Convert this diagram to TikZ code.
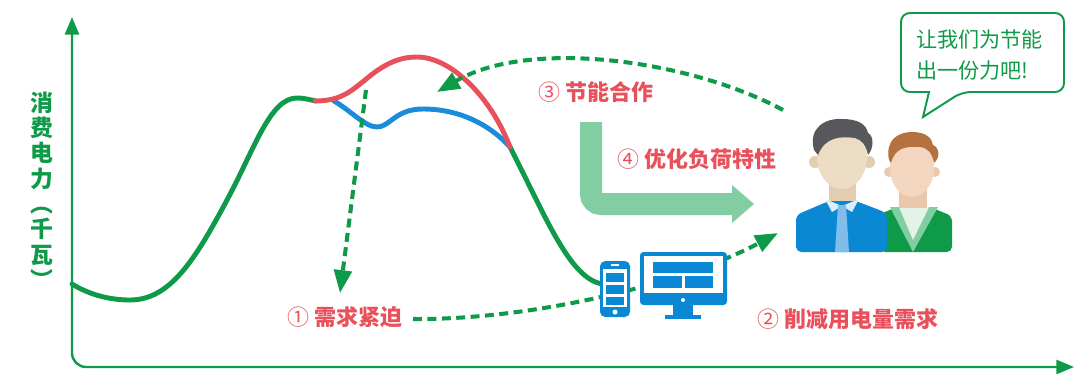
\documentclass[tikz,border=0pt]{standalone}
\usepackage{fontspec}
\usepackage{tikz}
\usetikzlibrary{arrows.meta}
\newfontfamily\cjk{Noto Sans CJK SC}

\definecolor{powergreen}{HTML}{0E9A48}
\definecolor{peakred}{HTML}{E8505B}
\definecolor{cutblue}{HTML}{1A8CDA}
\definecolor{softgreen}{HTML}{82CEA2}
\definecolor{devblue}{HTML}{0A88D4}
\definecolor{hairgrey}{HTML}{58585C}
\definecolor{hairbrown}{HTML}{B5713F}
\definecolor{skinA}{HTML}{EBDCC3}
\definecolor{skinAdark}{HTML}{E2CDB0}
\definecolor{skinB}{HTML}{F3D6BF}
\definecolor{skinBdark}{HTML}{EBC7AC}
\definecolor{collarblue}{HTML}{DCEEFA}
\definecolor{tieblue}{HTML}{80BDEA}
\definecolor{shirtgreen}{HTML}{E3F3E8}

\begin{document}
\begin{tikzpicture}[x=0.02cm, y=-0.02cm, font=\cjk,
	axis/.style={powergreen, line width=1.4pt},
	load/.style={line width=2.8pt, line cap=round},
	flow/.style={powergreen, line width=2.3pt, dash pattern=on 5.1pt off 3.1pt, -{Triangle[length=13pt, width=10pt]}},
	tag/.style={text=peakred, font=\cjk\bfseries\fontsize{12.5}{14}\selectfont, anchor=west, inner sep=0pt}]
	\useasboundingbox (0,0) rectangle (1075,373);

	% Draw axes
	\draw[axis, rounded corners=8, {Triangle[length=10pt, width=8pt]}-{Triangle[length=10pt, width=8pt]}] (72,17) |- (1074,367);
	\node[font=\cjk\bfseries\fontsize{13}{14.4}\selectfont, text=powergreen, align=center, inner sep=0pt] (ylabel) at (42,190) {消\\费\\电\\力\\︵\\千\\瓦\\︶};

	%Plot load curve
	\draw[load, powergreen] (72,284) .. controls (90,295) and (110,300) .. (130,300) .. controls (170,300) and (195,260) .. (227,200) .. controls (255,148) and (270,98) .. (297,98) .. controls (305,98) and (310,100) .. (316,101);
	\draw[load, powergreen] (510,147) .. controls (545,215) and (570,280) .. (603,284);
	%Reduced peak
	\draw[load, cutblue] (334,101) .. controls (350,110) and (365,127) .. (377,127) .. controls (390,127) and (395,109) .. (423,109) .. controls (460,109) and (490,125) .. (510,147);
	%Original peak
	\draw[load, peakred] (315,101) .. controls (340,101) and (350,92) .. (365,80) .. controls (385,63) and (400,57) .. (417,57) .. controls (450,57) and (490,95) .. (510,147);

	%Labels
	\node[tag] (urgent) at (287,317) {{\mdseries ①} 需求紧迫};
	\node[tag] (cut) at (757,319) {{\mdseries ②} 削减用电量需求};
	\node[tag] (coop) at (538,92) {{\mdseries ③} 节能合作};
	\node[tag] (shape) at (617,159) {{\mdseries ④} 优化负荷特性};

	%Dashed arrows
	\coordinate (peakfoot) at (366,90);
	\coordinate (urgenttip) at (340,293);
	\coordinate (reqstart) at (413,319);
	\coordinate (peopletip) at (778,233);
	\coordinate (coopstart) at (783,110);
	\coordinate (peaktip) at (437,92);
	\draw[flow] (peakfoot) -- (urgenttip);
	\draw[flow] (reqstart) .. controls (530,320) and (680,285) .. (peopletip);
	\draw[flow] (coopstart) .. controls (690,60) and (530,38) .. (peaktip);

	%Big arrow
	\draw[softgreen, line width=0.44cm, rounded corners=0.2cm] (591,122) |- (733,204);
	\fill[softgreen] (732,185) -- (754,204) -- (732,223) -- cycle;

	%Phone
	\fill[devblue, rounded corners=3] (600,261) rectangle (630,317);
	\fill[white] (603,269) rectangle (627,307);
	\fill[devblue] (606,273) rectangle (624,282);
	\fill[devblue] (606,285) rectangle (624,294);
	\fill[devblue] (606,297) rectangle (624,305);
	\fill[white] (615,312) circle (2.5);
	\draw[white, line width=0.8pt] (611,265) -- (619,265);

	%Monitor
	\fill[devblue, rounded corners=2] (640,252) rectangle (727,305);
	\fill[white] (644,256) rectangle (723,293);
	\fill[devblue] (653,262) rectangle (713,273);
	\fill[devblue] (653,276) rectangle (682,288);
	\fill[devblue] (685,276) rectangle (713,288);
	\fill[white] (683,300) circle (2);
	\fill[devblue] (673,304) rectangle (693,316);
	\fill[devblue] (665,315) rectangle (701,319);

	%Man in green
	\fill[powergreen, rounded corners=3] (880,252) -- (880,214) -- (897,207) -- (930,207) -- (952,216) -- (952,252) -- cycle;
	\fill[softgreen] (890,207) -- (938,207) -- (913,252) -- cycle;
	\fill[shirtgreen] (899,207) -- (929,207) -- (913,240) -- cycle;
	\fill[skinBdark] (899,188) rectangle (927,208);
	\fill[skinBdark] (889,172) circle (5);
	\fill[skinBdark] (935,172) circle (5);
	\fill[skinB] (912,168) ellipse (22 and 29);
	\fill[hairbrown] (889,160) .. controls (885,140) and (898,132) .. (912,132) .. controls (926,132) and (932,138) .. (933,145) .. controls (940,148) and (940,158) .. (934,163) .. controls (932,153) and (928,148) .. (920,147) .. controls (905,146) and (895,148) .. (891,163) -- cycle;

	%Man in blue
	\fill[skinAdark] (829,182) rectangle (856,203);
	\fill[devblue, rounded corners=3] (796,252) -- (796,215) -- (829,201) -- (856,201) -- (887,213) -- (887,252) -- cycle;
	\fill[collarblue] (825,199) -- (842,206) -- (832,212) -- cycle;
	\fill[collarblue] (859,199) -- (842,206) -- (852,212) -- cycle;
	\fill[tieblue] (838,205) -- (846,205) -- (849,252) -- (835,252) -- cycle;
	\fill[skinAdark] (815,162) circle (6);
	\fill[skinAdark] (869,162) circle (6);
	\fill[skinA] (842,157) ellipse (25 and 32);
	\fill[hairgrey] (814,150) .. controls (808,128) and (825,118) .. (842,119) .. controls (858,119) and (866,124) .. (868,133) .. controls (874,136) and (874,148) .. (868,155) .. controls (866,145) and (862,140) .. (855,138) .. controls (840,136) and (825,137) .. (818,155) -- cycle;

	%Speech bubble
	\draw[powergreen, line width=1.1pt, fill=white, rounded corners=5] (901,13) -- (1064,13) -- (1064,92) -- (962,92) [sharp corners] -- (923,117) -- (929,92) [rounded corners=5] -- (901,92) -- cycle;
	\node[text=powergreen, align=left, font=\cjk\fontsize{12}{17.6}\selectfont, anchor=west, inner sep=0pt] (talk) at (916,55) {让我们为节能\\出一份力吧!};

\end{tikzpicture}
\end{document}
